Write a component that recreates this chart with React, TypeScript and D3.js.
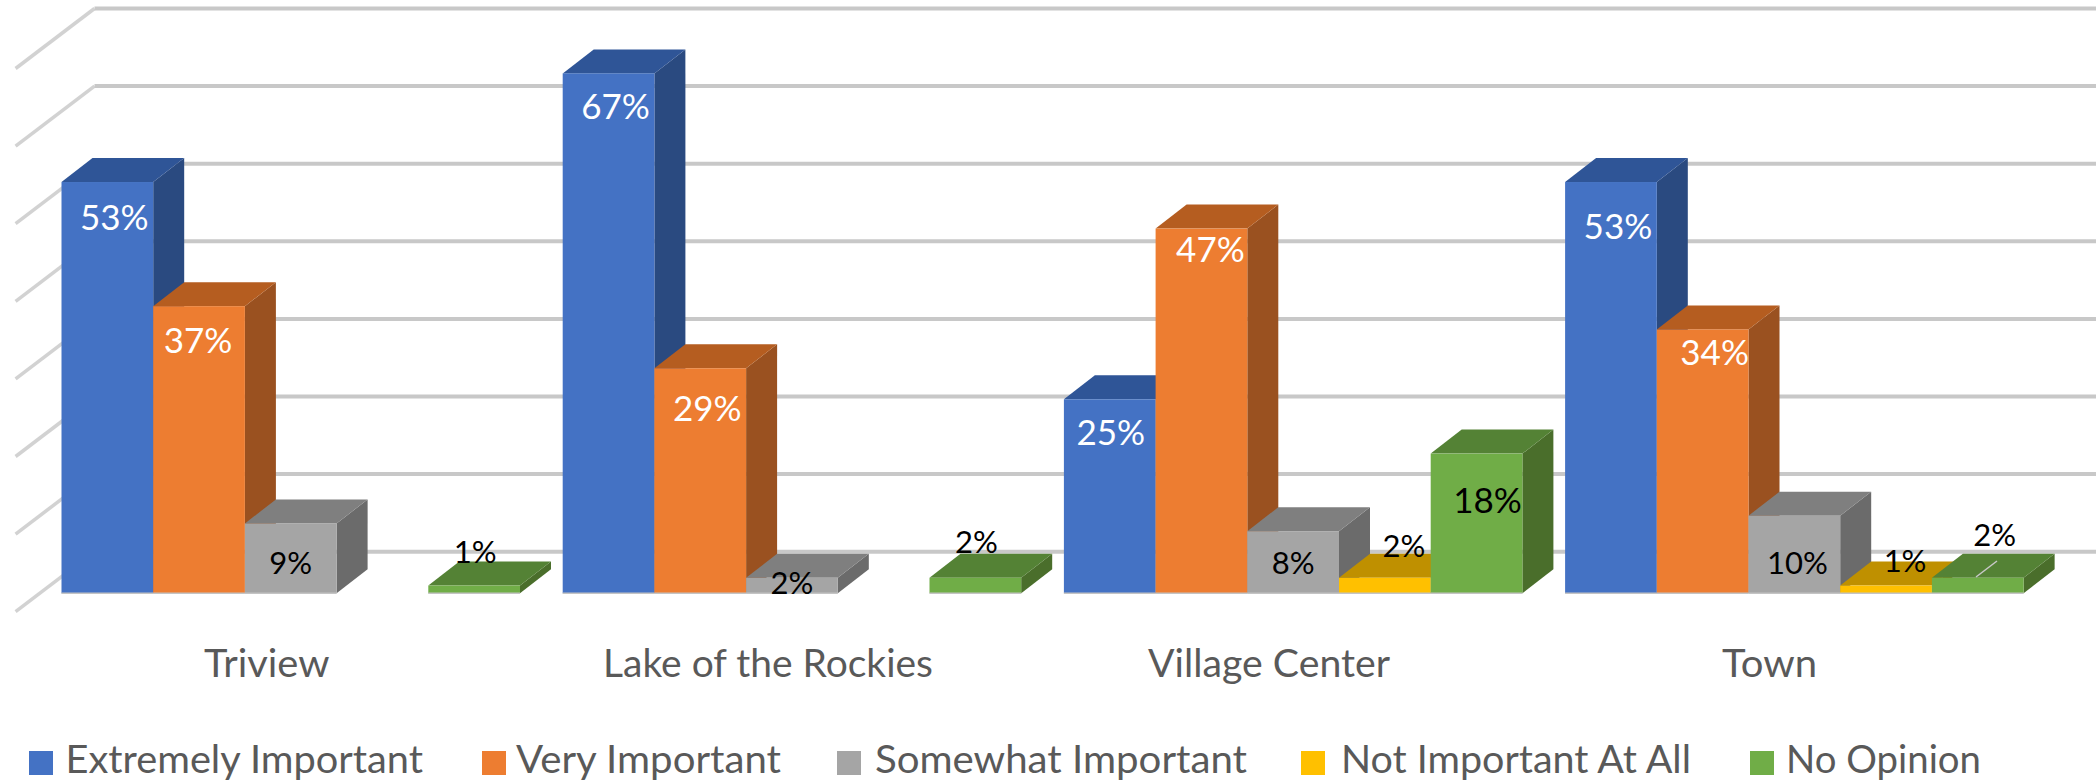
import React from "react";
import * as d3 from "d3";

const categories = ["Triview", "Lake of the Rockies", "Village Center", "Town"];
const seriesNames = ["Extremely Important", "Very Important", "Somewhat Important", "Not Important At All", "No Opinion"];
const extremelyImportant = [53, 67, 25, 53];
const veryImportant = [37, 29, 47, 34];
const somewhatImportant = [9, 2, 8, 10];
const notImportantAtAll = [null, null, 2, 1];
const noOpinion = [1, 2, 18, 2];
const gridValues = [0, 10, 20, 30, 40, 50, 60, 70];

const seriesValues = [extremelyImportant, veryImportant, somewhatImportant, notImportantAtAll, noOpinion];

const faceFill = ["#4472C4", "#ED7D31", "#A5A5A5", "#FFC000", "#70AD47"];
const topFill = ["#2F5597", "#B55D20", "#7F7F7F", "#BF9000", "#548235"];
const sideFill = ["#2A4A80", "#9A5120", "#6B6B6B", "#A67C00", "#4A6E2B"];

// label nudges, [series][category], relative to bar centre / bar top
const labelDx = [
  [7, 7, 1, 7],
  [-1, 7, 9, 12],
  [0, 0, 0, 3],
  [0, 0, 19, 19],
  [1, 1, 11, 17],
];
const labelDy = [
  [36, 33, 33, 45],
  [35, 40, 21, 23],
  [40, 5, 32, 47],
  [0, 0, -32, -24],
  [-33, -36, 47, -43],
];

const legendX = [
  { square: 29, text: 65.5, end: 423 },
  { square: 482, text: 516, end: 781 },
  { square: 837, text: 875, end: 1247 },
  { square: 1301, text: 1341, end: 1691 },
  { square: 1750, text: 1786, end: 1981 },
];
const catTextX = [
  [204, 329.5],
  [603, 933],
  [1148, 1390],
  [1722, 1817],
];

const W = 2096;
const H = 783;
const DX = 31;
const DY = 24;
const FONT = "Lato, 'Noto Sans', sans-serif";

export default function App() {
  const x0 = d3
    .scaleBand<string>()
    .domain(categories)
    .range([61.5, 61.5 + 3 * 501.2 + 458.5])
    .paddingInner(0.0852);
  const x1 = d3.scaleBand<number>().domain(d3.range(5)).range([0, x0.bandwidth()]);
  const y = d3.scaleLinear().domain([0, 70]).range([593.3, 593.3 - 543.2]);
  const gridY = d3.scaleLinear().domain([0, 70]).range([551.7, 8.5]);
  const poly = (pts: number[][]) => d3.line()(pts as [number, number][]) + "Z";

  const bars: React.ReactNode[] = [];
  const labels: React.ReactNode[] = [];
  categories.forEach((c, ci) => {
    seriesValues.forEach((vals, si) => {
      const v = vals[ci];
      if (v == null) return;
      const l = x0(c)! + x1(si)!;
      const w = x1.bandwidth();
      const r = l + w;
      const t = y(v);
      const b = y(0);
      bars.push(
        <g key={`${ci}-${si}`}>
          <path d={poly([[r, t], [r + DX, t - DY], [r + DX, b - DY], [r, b]])} fill={sideFill[si]} />
          <path d={poly([[l, t], [r, t], [r + DX, t - DY], [l + DX, t - DY]])} fill={topFill[si]} />
          <rect x={l} y={t} width={w} height={b - t} fill={faceFill[si]} />
          <line x1={l} x2={r} y1={b} y2={b} stroke="#C4C4C4" strokeWidth={1.5} />
        </g>
      );
      const big = si < 2 || v >= 18;
      labels.push(
        <text
          key={`l${ci}-${si}`}
          x={l + w / 2 + labelDx[si][ci]}
          y={t + labelDy[si][ci]}
          dy="0.35em"
          textAnchor="middle"
          fontFamily={FONT}
          fontSize={big ? 35 : 31}
          fill={si < 2 ? "#FFFFFF" : "#000000"}
        >
          {v}%
        </text>
      );
    });
  });

  return (
    <svg width={W} height={H} style={{ position: "absolute", left: 0, top: 0, background: "#fff" }}>
      {gridValues.map((g) => (
        <g key={g}>
          <line x1={94.5} x2={15.6} y1={gridY(g)} y2={gridY(g) + 60} stroke="#D2D2D2" strokeWidth={3.5} />
          <line x1={94.5} x2={W} y1={gridY(g)} y2={gridY(g)} stroke="#C8C8C8" strokeWidth={4} />
        </g>
      ))}
      {bars}
      <line x1={1976} x2={1997} y1={577} y2={561} stroke="#C8C8C8" strokeWidth={1.5} />
      {labels}
      {categories.map((c, i) => (
        <text
          key={c}
          x={catTextX[i][0]}
          y={677}
          fontFamily={FONT}
          fontSize={39}
          fill="#595959"
          textLength={catTextX[i][1] - catTextX[i][0]}
          lengthAdjust="spacingAndGlyphs"
        >
          {c}
        </text>
      ))}
      {seriesNames.map((s, i) => (
        <g key={s}>
          <rect x={legendX[i].square} y={751} width={24} height={24} fill={faceFill[i]} />
          <text
            x={legendX[i].text}
            y={773}
            fontFamily={FONT}
            fontSize={39}
            fill="#595959"
            textLength={legendX[i].end - legendX[i].text}
            lengthAdjust="spacingAndGlyphs"
          >
            {s}
          </text>
        </g>
      ))}
    </svg>
  );
}
